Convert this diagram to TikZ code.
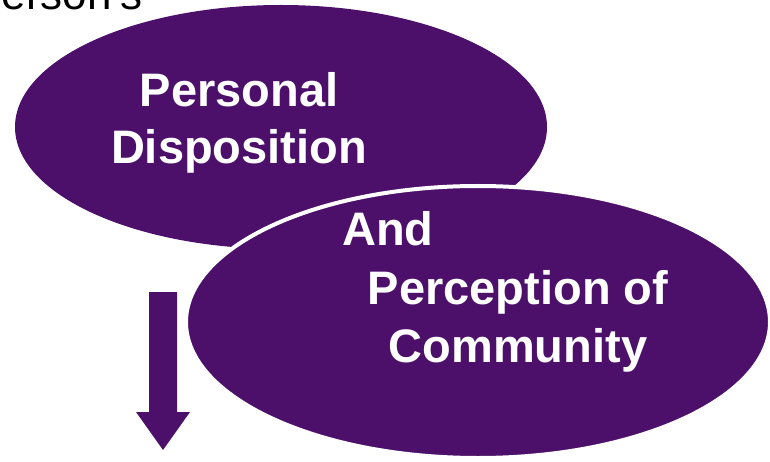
\documentclass[tikz,border=0pt]{standalone}
\usepackage{fontspec}
\setmainfont{Liberation Sans}
\usetikzlibrary{shapes.geometric,positioning}

\definecolor{plum}{HTML}{4C106A}

\tikzset{
  blob/.style={ellipse, fill=plum, inner sep=0pt},
  big text/.style={text=white, inner sep=0pt, anchor=base,
    font=\fontsize{47}{58}\selectfont\bfseries},
}

\begin{document}
\begin{tikzpicture}[x=1pt, y=-1pt]
  \useasboundingbox (0,0) rectangle (770,462);

  % heading, cut at the top edge
  \node[anchor=base east, inner sep=0pt, font=\fontsize{44}{50}\selectfont] (head) at (143,10) {erson's};

  % two ellipses, the lower one overlaps the upper one
  \node[blob, minimum width=532, minimum height=244] (disp) at (281,127) {};
  \node[blob, draw=white, line width=4pt, minimum width=584, minimum height=272] (comm) at (478,322) {};

  % labels
  \node[big text] (personal) at (239,107) {Personal};
  \node[big text] (disposition) at (239,164) {Disposition};
  \node[big text] (and) at (388,245) {And};
  \node[big text] (perception) at (518,304) {Perception of};
  \node[big text] (community) at (518,362) {Community};

  % block arrow pointing down
  \fill[plum] (149,292) -- (177,292) -- (177,412) -- (190,412) -- (163,450)
    -- (136,412) -- (149,412) -- cycle;
\end{tikzpicture}
\end{document}
